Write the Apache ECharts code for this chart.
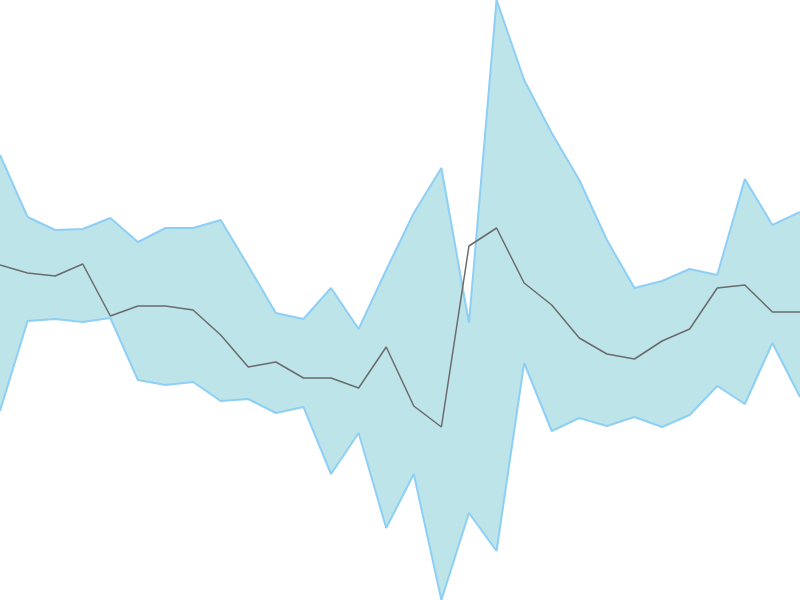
<!DOCTYPE html>
<html>
<head>
<meta charset="utf-8">
<script src="https://cdn.jsdelivr.net/npm/echarts@6/dist/echarts.min.js"></script>
<style>
  html, body { margin: 0; padding: 0; background: #fff; }
  #chart { width: 800px; height: 600px; }
</style>
</head>
<body>
<div id="chart"></div>
<script>
// 30 points
const categories = ['1','2','3','4','5','6','7','8','9','10','11','12','13','14','15',
                    '16','17','18','19','20','21','22','23','24','25','26','27','28','29','30'];
const upperValues = [445,383,370,371,382,358,372,372,380,334,287,281,312,271,330,
                     387,432,277,600,520,467,420,360,312,319,331,325,421,375,388];
const lowerValues = [189,279,281,278,282,220,215,218,199,201,187,193,126,167,72,
                     126,0,87,49,237,169,182,174,183,173,185,214,196,257,203];
const middleValues = [335,327,324,336,284,294,294,290,265,233,238,222,222,212,253,
                      194,173,354,372,317,295,262,246,241,259,271,312,315,288,288];

// band = upper - lower, stacked on top of lower
const bandValues = upperValues.map((v, i) => v - lowerValues[i]);

const chart = echarts.init(document.getElementById('chart'));
chart.setOption({
    animation: false,
    grid: { left: 0, right: 0, top: 0, bottom: 0 },
    xAxis: { type: 'category', data: categories, boundaryGap: false, show: false },
    yAxis: { type: 'value', min: 0, max: 600, show: false },
    series: [
        {
            name: 'L', type: 'line', stack: 'band', data: lowerValues,
            symbol: 'none', lineStyle: { color: '#8ecff5', width: 2 }
        },
        {
            name: 'U', type: 'line', stack: 'band', data: bandValues,
            symbol: 'none', lineStyle: { color: '#8ecff5', width: 2 },
            areaStyle: { color: '#bde4e9', opacity: 1 }
        },
        {
            name: 'M', type: 'line', data: middleValues,
            symbol: 'none', lineStyle: { color: '#6b6b6b', width: 1.5 }
        }
    ]
});
</script>
</body>
</html>
